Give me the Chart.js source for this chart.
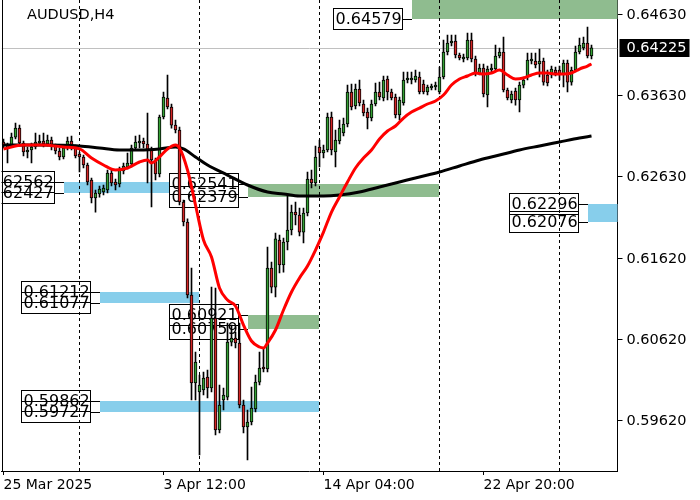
<!DOCTYPE html>
<html>
<head>
<meta charset="utf-8">
<script src="https://cdn.jsdelivr.net/npm/chart.js@4.4.1/dist/chart.umd.min.js"></script>
<style>
  html, body { margin: 0; padding: 0; background: #fff; }
  #wrap { width: 700px; height: 500px; }
</style>
</head>
<body>
<div id="wrap"><canvas id="chart" width="700" height="500"></canvas></div>
<script>
// AUDUSD H4 candles (bar 0 = 25 Mar 2025)
const symbol = "AUDUSD,H4";
const lastPrice = 0.64225;

const open = [
  0.63061, 0.63025, 0.63025, 0.63123, 0.63234, 0.63049, 0.62938, 0.62963, 0.63000, 0.63049,
  0.63074, 0.63037, 0.63086, 0.63013, 0.62951, 0.62877, 0.62988, 0.63074, 0.63000, 0.62914,
  0.62877, 0.62778, 0.62593, 0.62370, 0.62420, 0.62444, 0.62469, 0.62679, 0.62568, 0.62544,
  0.62704, 0.62753, 0.62791, 0.62988, 0.63049, 0.63074, 0.63037, 0.62963, 0.62840, 0.62667,
  0.63370, 0.63605, 0.63494, 0.63271, 0.63210, 0.62321, 0.62074, 0.61173, 0.60086, 0.59975,
  0.60000, 0.60160, 0.60025, 0.60889, 0.59506, 0.59877, 0.59913, 0.60592, 0.60642, 0.60580,
  0.59815, 0.59543, 0.59605, 0.59766, 0.60098, 0.60284, 0.60260, 0.61506, 0.61271, 0.61852,
  0.61543, 0.61827, 0.61975, 0.62197, 0.62161, 0.61950, 0.62185, 0.62605, 0.62556, 0.63000,
  0.62926, 0.62963, 0.63370, 0.62938, 0.63074, 0.63173, 0.63284, 0.63679, 0.63506, 0.63716,
  0.63531, 0.63432, 0.63358, 0.63531, 0.63679, 0.63605, 0.63840, 0.63679, 0.63617, 0.63395,
  0.63543, 0.63827, 0.63827, 0.63827, 0.63864, 0.63778, 0.63679, 0.63729, 0.63741, 0.63679,
  0.63864, 0.64173, 0.64284, 0.64309, 0.64136, 0.64087, 0.64099, 0.64321, 0.64087, 0.63914,
  0.63975, 0.63642, 0.63951, 0.63963, 0.64124, 0.64173, 0.63704, 0.63580, 0.63692, 0.63580,
  0.63765, 0.63864, 0.64062, 0.64062, 0.64025, 0.64062, 0.63889, 0.63889, 0.63951, 0.63951,
  0.63889, 0.64037, 0.63802, 0.63951, 0.64173, 0.64222, 0.64284, 0.64124
];
const high = [
  0.63099, 0.63049, 0.63173, 0.63296, 0.63271, 0.63074, 0.63000, 0.63049, 0.63173, 0.63148,
  0.63173, 0.63148, 0.63123, 0.63037, 0.62988, 0.63025, 0.63123, 0.63136, 0.63025, 0.62938,
  0.62901, 0.62803, 0.62617, 0.62469, 0.62519, 0.62531, 0.62716, 0.62716, 0.62605, 0.62753,
  0.62803, 0.62926, 0.63025, 0.63136, 0.63148, 0.63111, 0.63420, 0.63000, 0.62864, 0.63395,
  0.63679, 0.63889, 0.63531, 0.63333, 0.63247, 0.62346, 0.62112, 0.61506, 0.60469, 0.60185,
  0.60222, 0.60247, 0.61271, 0.61259, 0.60062, 0.60025, 0.60827, 0.60802, 0.60716, 0.60827,
  0.59877, 0.59753, 0.60037, 0.60185, 0.60469, 0.60519, 0.61765, 0.61580, 0.61938, 0.61914,
  0.61877, 0.62407, 0.62284, 0.62321, 0.62247, 0.62247, 0.62692, 0.62716, 0.63013, 0.63086,
  0.63025, 0.63420, 0.63432, 0.63210, 0.63333, 0.63358, 0.63765, 0.63778, 0.63778, 0.63827,
  0.63580, 0.63481, 0.63580, 0.63790, 0.63802, 0.63877, 0.63877, 0.63716, 0.63655, 0.63617,
  0.63926, 0.63926, 0.63926, 0.63951, 0.63926, 0.63827, 0.63765, 0.63778, 0.63802, 0.63988,
  0.64321, 0.64383, 0.64383, 0.64383, 0.64161, 0.64148, 0.64407, 0.64407, 0.64124, 0.64025,
  0.64025, 0.64000, 0.64025, 0.64259, 0.64222, 0.64358, 0.63729, 0.63692, 0.63729, 0.63802,
  0.63864, 0.64161, 0.64161, 0.64161, 0.64210, 0.64099, 0.63951, 0.64000, 0.63988, 0.64000,
  0.64074, 0.64074, 0.63988, 0.64247, 0.64346, 0.64358, 0.64482, 0.64259
];
const low = [
  0.62988, 0.62803, 0.63000, 0.63099, 0.63013, 0.62889, 0.62864, 0.62803, 0.62976, 0.63025,
  0.63000, 0.63013, 0.62963, 0.62914, 0.62840, 0.62852, 0.62963, 0.62963, 0.62864, 0.62691,
  0.62741, 0.62531, 0.62309, 0.62197, 0.62382, 0.62407, 0.62432, 0.62519, 0.62469, 0.62506,
  0.62667, 0.62729, 0.62753, 0.62963, 0.62988, 0.62988, 0.62556, 0.62259, 0.62593, 0.62630,
  0.63346, 0.63469, 0.63234, 0.63173, 0.62284, 0.62025, 0.61136, 0.59877, 0.59877, 0.59198,
  0.59938, 0.59901, 0.59975, 0.59444, 0.59469, 0.59753, 0.59877, 0.60543, 0.60519, 0.59778,
  0.59469, 0.59136, 0.59568, 0.59728, 0.60062, 0.60222, 0.60222, 0.61198, 0.61148, 0.61444,
  0.61456, 0.61728, 0.61914, 0.62037, 0.61902, 0.61815, 0.62148, 0.62494, 0.62519, 0.62753,
  0.62864, 0.62938, 0.62901, 0.62753, 0.63037, 0.63136, 0.63247, 0.63457, 0.63469, 0.63506,
  0.63383, 0.63222, 0.63321, 0.63506, 0.63580, 0.63568, 0.63580, 0.63580, 0.63358, 0.63333,
  0.63518, 0.63790, 0.63778, 0.63802, 0.63655, 0.63655, 0.63642, 0.63704, 0.63704, 0.63655,
  0.63840, 0.64136, 0.64247, 0.64099, 0.64074, 0.64049, 0.64074, 0.64049, 0.63877, 0.63889,
  0.63617, 0.63494, 0.63914, 0.63938, 0.64099, 0.63679, 0.63580, 0.63543, 0.63518, 0.63432,
  0.63729, 0.63827, 0.64025, 0.63975, 0.63864, 0.63765, 0.63753, 0.63852, 0.63877, 0.63827,
  0.63741, 0.63679, 0.63765, 0.63926, 0.64148, 0.64198, 0.64099, 0.64087
];
const close = [
  0.63025, 0.62988, 0.63123, 0.63234, 0.63049, 0.62938, 0.62963, 0.63000, 0.63061, 0.63074,
  0.63037, 0.63086, 0.63013, 0.62951, 0.62877, 0.62988, 0.63074, 0.63000, 0.62889, 0.62877,
  0.62778, 0.62568, 0.62370, 0.62432, 0.62482, 0.62494, 0.62679, 0.62556, 0.62531, 0.62716,
  0.62766, 0.62803, 0.62988, 0.63061, 0.63074, 0.63037, 0.62963, 0.62840, 0.62667, 0.63370,
  0.63617, 0.63494, 0.63271, 0.63210, 0.62321, 0.62074, 0.61173, 0.60086, 0.60345, 0.60062,
  0.60148, 0.60025, 0.60889, 0.59506, 0.59815, 0.59938, 0.60592, 0.60642, 0.60580, 0.59815,
  0.59543, 0.59605, 0.59778, 0.60098, 0.60272, 0.60260, 0.61506, 0.61271, 0.61865, 0.61543,
  0.61827, 0.61975, 0.62197, 0.62161, 0.61950, 0.62185, 0.62605, 0.62556, 0.62877, 0.62926,
  0.62963, 0.63370, 0.62963, 0.63086, 0.63234, 0.63284, 0.63679, 0.63494, 0.63716, 0.63543,
  0.63420, 0.63358, 0.63531, 0.63679, 0.63617, 0.63827, 0.63679, 0.63605, 0.63395, 0.63580,
  0.63827, 0.63852, 0.63852, 0.63877, 0.63679, 0.63679, 0.63741, 0.63753, 0.63765, 0.63864,
  0.64173, 0.64284, 0.64309, 0.64136, 0.64099, 0.64111, 0.64321, 0.64087, 0.63914, 0.63975,
  0.63655, 0.63963, 0.63975, 0.64124, 0.64173, 0.63704, 0.63605, 0.63655, 0.63580, 0.63765,
  0.63827, 0.64074, 0.64087, 0.64012, 0.64062, 0.63802, 0.63790, 0.63963, 0.63914, 0.63889,
  0.64037, 0.63802, 0.63951, 0.64173, 0.64259, 0.64284, 0.64124, 0.64225
];

// moving averages, sampled along the drawn lines (bar index -> value)
const fastIdx = [0, 5, 10, 15, 19, 22, 25, 28, 31, 34, 36, 37, 39, 41, 43, 44, 46, 48, 50, 52,
  54, 56, 58, 60, 62, 64, 65, 66, 68, 70, 72, 74, 76, 78, 80, 82, 84, 86, 88, 90,
  92, 94, 96, 98, 100, 102, 104, 106, 108, 110, 112, 114, 116, 118, 120, 122, 124, 126, 128, 130,
  132, 134, 136, 138, 140, 142, 144, 146, 147];
const fastVal = [0.62976, 0.63025, 0.63025, 0.63000, 0.62976, 0.62864, 0.62778, 0.62716, 0.62741, 0.62815,
  0.62840, 0.62803, 0.62877, 0.62976, 0.63025, 0.62988, 0.62716, 0.62284, 0.61852, 0.61642,
  0.61259, 0.61111, 0.61037, 0.60802, 0.60605, 0.60531, 0.60519, 0.60580, 0.60741, 0.60988,
  0.61210, 0.61383, 0.61531, 0.61728, 0.61950, 0.62197, 0.62383, 0.62568, 0.62741, 0.62864,
  0.62963, 0.63099, 0.63198, 0.63259, 0.63358, 0.63432, 0.63481, 0.63531, 0.63568, 0.63642,
  0.63765, 0.63840, 0.63877, 0.63914, 0.63901, 0.63914, 0.63951, 0.63889, 0.63840, 0.63852,
  0.63889, 0.63914, 0.63914, 0.63901, 0.63901, 0.63914, 0.63963, 0.64000, 0.64025];
const slowIdx = [0, 10, 19, 24, 29, 34, 39, 43, 45, 48, 51, 56, 61, 66, 70, 74, 80, 84, 89, 94,
  99, 104, 109, 114, 119, 124, 129, 134, 139, 144, 147];
const slowVal = [0.63025, 0.63025, 0.63013, 0.62988, 0.62963, 0.62963, 0.62976, 0.63000, 0.62976, 0.62877,
  0.62778, 0.62654, 0.62531, 0.62444, 0.62420, 0.62395, 0.62395, 0.62407, 0.62444, 0.62506,
  0.62568, 0.62630, 0.62691, 0.62766, 0.62840, 0.62901, 0.62963, 0.63013, 0.63062, 0.63111, 0.63136];

// price axis and time axis labels
const priceTicks = [0.59620, 0.60620, 0.61620, 0.62630, 0.63630, 0.64630];
const timeTickIdx = [0, 40, 80, 120];
const timeTickText = ["25 Mar 2025", "3 Apr 12:00", "14 Apr 04:00", "22 Apr 20:00"];
const weekStartIdx = [19, 49, 79, 109, 139];

// supply / demand zones
const zoneLo = [0.64579, 0.62427, 0.62379, 0.62076, 0.61077, 0.60759, 0.59727];
const zoneHi = [null, 0.62562, 0.62541, 0.62296, 0.61212, 0.60921, 0.59862];
const zoneFrom = [102, 15, 61, 146, 24, 61, 24];
const zoneTo = [154, 41.6, 108.75, 154, 48.75, 78.75, 78.75];
const zoneKind = ["sell", "buy", "sell", "buy", "buy", "sell", "buy"];

const SLOTS = 154;
const zoneColors = { sell: "#8fbc8f", buy: "#87ceeb" };
const font = '"DejaVu Sans", Verdana, sans-serif';

const labels = Array.from({ length: SLOTS }, (_, i) => String(i));
const bodies = open.map((o, i) => [o, close[i]]);
const wicks = low.map((l, i) => [l, high[i]]);
const bodyColors = open.map((o, i) => (close[i] >= o ? "#34a034" : "#d42626"));

function lineData(idx, val) {
    const arr = new Array(SLOTS).fill(null);
    idx.forEach((k, j) => { arr[k] = val[j]; });
    return arr;
}

const overlay = {
    id: "overlay",
    beforeDatasetsDraw(chart) {
        const { ctx, chartArea: a, scales: { x, y } } = chart;
        ctx.save();
        ctx.beginPath();
        ctx.rect(a.left, a.top, a.right - a.left, a.bottom - a.top);
        ctx.clip();

        // zone rectangles
        zoneLo.forEach((lo, k) => {
            const x0 = Math.round(x.getPixelForValue(zoneFrom[k]));
            const x1 = Math.round(x.getPixelForValue(zoneTo[k]));
            const yLo = Math.round(y.getPixelForValue(lo));
            const yHi = zoneHi[k] === null ? a.top : Math.round(y.getPixelForValue(zoneHi[k]));
            ctx.fillStyle = zoneColors[zoneKind[k]];
            ctx.fillRect(x0, yHi, x1 - x0, yLo - yHi);
        });

        // price boxes with connectors
        ctx.font = "16px " + font;
        ctx.textBaseline = "middle";
        zoneLo.forEach((lo, k) => {
            const x0 = Math.round(x.getPixelForValue(zoneFrom[k]));
            const right = x0 - 9.5;
            const left = right - 69;
            const levels = zoneHi[k] === null ? [lo] : [zoneHi[k], lo];
            const ys = levels.map(v => Math.round(y.getPixelForValue(v)) + 0.5);
            ctx.strokeStyle = "#000";
            ctx.lineWidth = 1;
            ys.forEach(py => {
                ctx.beginPath();
                ctx.moveTo(right, py);
                ctx.lineTo(x0, py);
                ctx.stroke();
            });
            ctx.fillStyle = "#fff";
            ys.forEach(py => ctx.fillRect(left, py - 11, 69, 21));
            ys.forEach(py => ctx.strokeRect(left, py - 11, 69, 21));
            ctx.fillStyle = "#000";
            ys.forEach((py, j) => ctx.fillText(levels[j].toFixed(5), left + 2, py));
        });

        // week separators
        ctx.setLineDash([3, 3]);
        ctx.strokeStyle = "#000";
        weekStartIdx.forEach(i => {
            const px = x.getPixelForValue(i);
            ctx.beginPath();
            ctx.moveTo(px, a.top);
            ctx.lineTo(px, a.bottom);
            ctx.stroke();
        });
        ctx.setLineDash([]);

        // last price line
        const py = Math.round(y.getPixelForValue(lastPrice)) + 0.5;
        ctx.strokeStyle = "#c0c0c0";
        ctx.beginPath();
        ctx.moveTo(a.left, py);
        ctx.lineTo(a.right, py);
        ctx.stroke();
        ctx.restore();
    },
    afterDraw(chart) {
        const { ctx, chartArea: a, scales: { y } } = chart;
        ctx.save();
        // left frame
        ctx.strokeStyle = "#000";
        ctx.lineWidth = 1;
        ctx.beginPath();
        ctx.moveTo(a.left + 1, a.top);
        ctx.lineTo(a.left + 1, a.bottom);
        ctx.stroke();
        // title
        ctx.font = "14.5px " + font;
        ctx.textBaseline = "middle";
        ctx.fillStyle = "#000";
        ctx.fillText(symbol, 27, 15);
        // last price tag
        const py = Math.round(y.getPixelForValue(lastPrice));
        ctx.fillStyle = "#000";
        ctx.fillRect(a.right + 2, py - 9, 70, 18);
        ctx.fillStyle = "#fff";
        ctx.fillText(lastPrice.toFixed(5), a.right + 9, py + 0.5);
        ctx.restore();
    }
};

new Chart(document.getElementById("chart"), {
    type: "bar",
    data: {
        labels: labels,
        datasets: [
            {
                type: "line",
                label: "fast MA",
                data: lineData(fastIdx, fastVal),
                borderColor: "#ff0000",
                borderWidth: 3,
                pointRadius: 0,
                spanGaps: true,
                cubicInterpolationMode: "monotone",
                order: 0,
            },
            {
                type: "line",
                label: "slow MA",
                data: lineData(slowIdx, slowVal),
                borderColor: "#000000",
                borderWidth: 3,
                pointRadius: 0,
                spanGaps: true,
                cubicInterpolationMode: "monotone",
                order: 1,
            },
            {
                label: "body",
                data: bodies,
                backgroundColor: bodyColors,
                borderColor: "#000",
                borderWidth: 1,
                borderSkipped: false,
                barThickness: 3,
                grouped: false,
                order: 2,
            },
            {
                label: "wick",
                data: wicks,
                backgroundColor: "#000",
                borderWidth: 0,
                barThickness: 1,
                grouped: false,
                order: 3,
            },
        ],
    },
    options: {
        responsive: false,
        animation: false,
        devicePixelRatio: 1,
        events: [],
        layout: { padding: { left: 1.5, top: 0, right: 0, bottom: 0 } },
        plugins: { legend: { display: false }, tooltip: { enabled: false } },
        scales: {
            x: {
                type: "category",
                offset: true,
                grid: {
                    offset: false,
                    drawOnChartArea: false,
                    tickLength: 4,
                    color: ctx => (timeTickIdx.includes(ctx.index) ? "#000" : "rgba(0,0,0,0)"),
                },
                border: { display: true, color: "#000" },
                ticks: {
                    autoSkip: false,
                    maxRotation: 0,
                    minRotation: 0,
                    align: "start",
                    padding: 2,
                    color: "#000",
                    font: { family: font, size: 14 },
                    callback: (v, i) => {
                        const k = timeTickIdx.indexOf(i);
                        return k >= 0 ? timeTickText[k] : "";
                    },
                },
                afterFit: s => {
                    s.height = 29;
                    s.paddingLeft = 0;
                    s.paddingRight = 0;
                },
            },
            y: {
                position: "right",
                min: 0.59,
                max: 0.64815,
                afterBuildTicks: s => { s.ticks = priceTicks.map(v => ({ value: v })); },
                grid: { drawOnChartArea: false, tickLength: 5, color: "#000" },
                border: { display: true, color: "#000" },
                ticks: {
                    padding: 4,
                    color: "#000",
                    font: { family: font, size: 14.5 },
                    callback: v => v.toFixed(5),
                },
                afterFit: s => {
                    s.width = 82.5;
                    s.paddingTop = 0;
                    s.paddingBottom = 0;
                },
            },
        },
    },
    plugins: [overlay],
});
</script>
</body>
</html>
